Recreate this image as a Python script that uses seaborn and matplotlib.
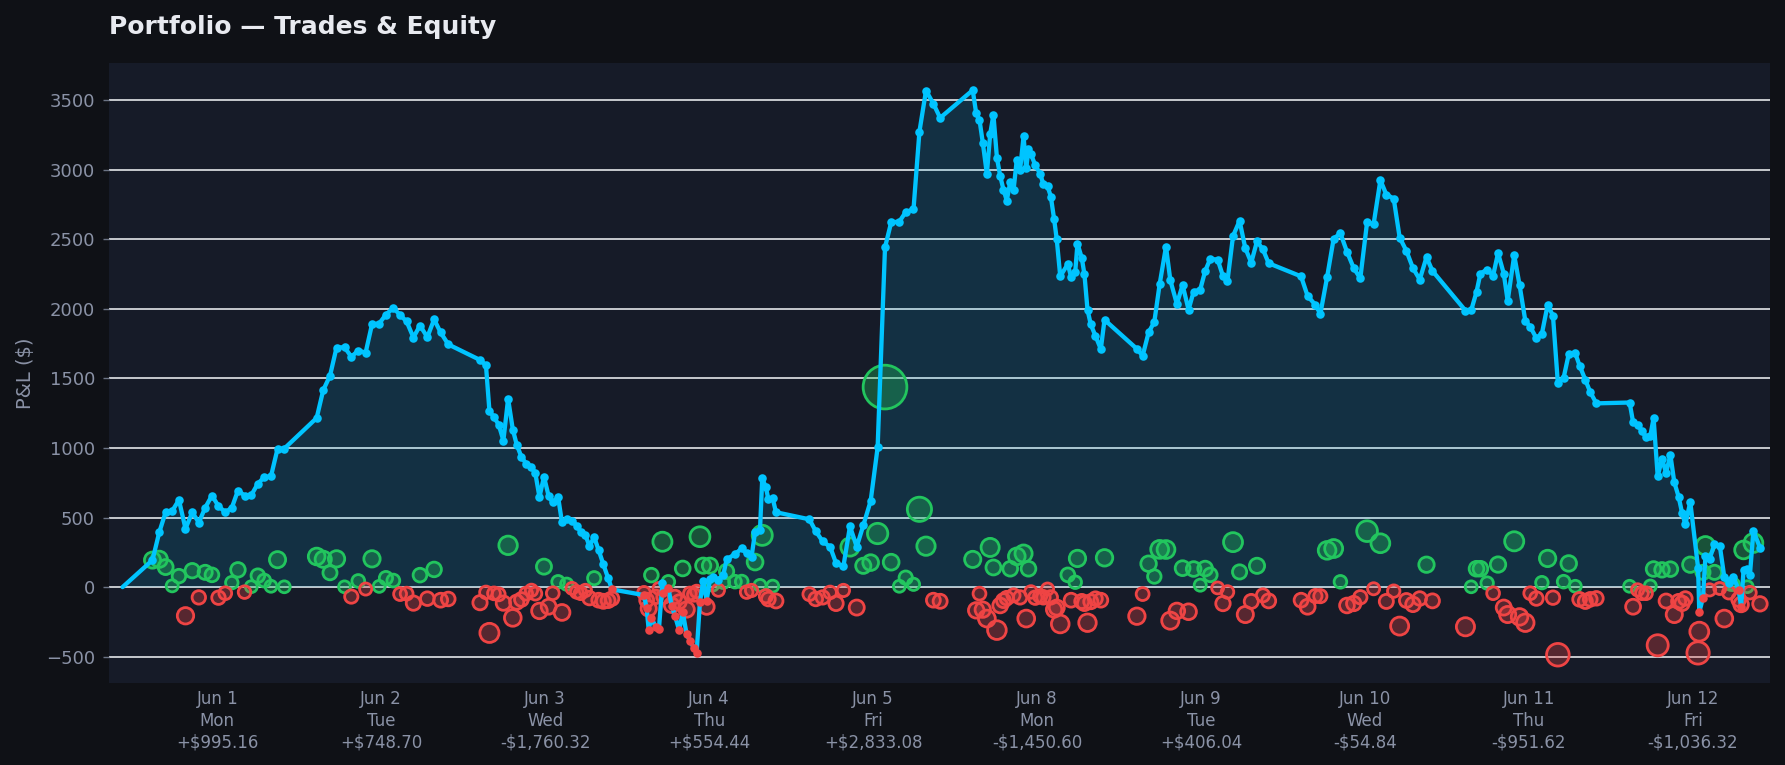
import matplotlib
matplotlib.use("Agg")
import matplotlib.pyplot as plt
import numpy as np
import pandas as pd
import seaborn as sns

# trading days shown on the axis
days = ["Jun 1", "Jun 2", "Jun 3", "Jun 4", "Jun 5", "Jun 8", "Jun 9", "Jun 10", "Jun 11", "Jun 12"]
weekdays = ["Mon", "Tue", "Wed", "Thu", "Fri", "Mon", "Tue", "Wed", "Thu", "Fri"]

# equity curve starts flat before the first trade
session_start = 8.13
start_equity = 0.0

# trade times (hour of day) and realised P&L of each trade, day by day
jun1_hours = [9.59, 9.92, 10.23, 10.55, 10.88, 11.20, 11.53, 11.85, 12.16, 12.49, 12.81,
              13.14, 13.46, 13.76, 14.08, 14.41, 14.73, 15.04, 15.37, 15.69, 16.02]
jun1_pnl = [194, 200, 144, 9, 79, -206, 118, -74, 106, 88, -76,
            -44, 32, 124, -36, 3, 82, 47, 6, 197, 2.16]

jun2_hours = [9.60, 9.92, 10.25, 10.57, 10.96, 11.29, 11.63, 11.99, 12.30, 12.65, 12.98,
              13.34, 13.67, 13.99, 14.32, 14.64, 15.00, 15.33, 15.65, 16.02]
jun2_pnl = [220, 200, 103, 203, 2, -68, 44, -14, 203, 5, 65,
            47, -50, -47, -115, 86, -83, 127, -94, -85.30]

jun3_hours = [9.57, 9.86, 10.03, 10.25, 10.48, 10.71, 10.94, 11.17, 11.36, 11.59, 11.82,
              12.08, 12.27, 12.47, 12.69, 12.92, 13.12, 13.38, 13.57, 13.80, 14.06,
              14.29, 14.48, 14.71, 14.91, 15.14, 15.36, 15.59, 15.82, 16.01]
jun3_pnl = [-112, -38, -329, -45, -52, -115, 300, -221, -108, -89, -47,
            -23, -47, -171, 147, -141, -44, 38, -182, 21, -9,
            -35, -44, -24, -79, 64, -94, -102, -97, -82.32]

jun4_hours = [9.57, 9.70, 9.80, 9.93, 10.15, 10.30, 10.47, 10.52, 10.76, 10.92, 11.08,
              11.29, 11.46, 11.65, 11.81, 12.01, 12.14, 12.30, 12.46, 12.63, 12.79,
              12.92, 13.20, 13.44, 13.60, 14.01, 14.34, 14.58, 14.82, 14.99, 15.23,
              15.34, 15.52, 15.64, 15.85, 16.01]
jun4_pnl = [-41, -94, -154, 86, -70, -10, 326, -70, 38, -130, -70,
            -106, 134, -161, -46, -55, -31, 362, 154, -142, 154,
            15, -22, 35, 113, 39, 40, -36, -24, 180, 12,
            372, -65, -86, 7, -99.56]

jun5_hours = [9.64, 9.95, 10.29, 10.65, 10.94, 11.30, 11.62, 11.95, 12.27, 12.63,
              12.97, 13.33, 13.63, 14.03, 14.34, 14.72, 15.01, 15.33, 15.69, 16.02]
jun5_pnl = [-51, -85, -74, -38, -117, -24, 288, -147, 153, 176,
            385, 1437, 179, 6, 68, 20, 559, 294, -94, -101.92]

jun8_hours = [9.61, 9.78, 9.94, 10.10, 10.30, 10.46, 10.62, 10.79, 10.95, 11.11,
              11.27, 11.44, 11.60, 11.76, 11.92, 12.09, 12.22, 12.33, 12.45, 12.66,
              12.90, 13.06, 13.26, 13.42, 13.58, 13.71, 13.88, 14.25, 14.41, 14.61,
              14.72, 14.93, 15.06, 15.21, 15.37, 15.60, 15.86, 16.04]
jun8_pnl = [199, -167, -47, -162, -226, 285, 141, -309, -132, -97,
            -79, 132, -59, 221, -74, 241, -226, 132, -35, -76,
            -65, -74, -14, -74, -161, -147, -265, 88, -94, 35,
            206, -103, -117, -256, -105, -83, -94, 210.40]

jun9_hours = [9.62, 9.90, 10.19, 10.47, 10.73, 11.04, 11.25, 11.57, 11.85, 12.14,
              12.39, 12.71, 12.95, 13.20, 13.56, 13.82, 14.04, 14.31, 14.63, 14.91,
              15.20, 15.48, 15.77, 16.05]
jun9_pnl = [-209, -50, 168, 76, 271, 270, -241, -171, 136, -177,
            130, 14, 133, 88, -6, -118, -35, 323, 109, -197,
            -103, 153, -59, -98.96]

jun10_hours = [9.63, 9.95, 10.33, 10.57, 10.90, 11.22, 11.55, 11.87, 12.20, 12.52,
               12.85, 13.17, 13.50, 13.79, 14.15, 14.44, 14.77, 15.09, 15.42, 15.75, 16.04]
jun10_pnl = [-94, -141, -64, -65, 264, 277, 38, -132, -118, -73,
             402, -12, 315, -103, -29, -280, -96, -124, -82, 161, -98.84]

jun11_hours = [9.65, 9.93, 10.19, 10.38, 10.71, 11.00, 11.24, 11.52, 11.71, 12.03,
               12.29, 12.57, 12.81, 13.11, 13.38, 13.66, 13.92, 14.16, 14.44, 14.69,
               15.01, 15.22, 15.50, 15.74, 16.04]
jun11_pnl = [-285, 2, 132, 132, 29, -44, 162, -147, -197, 329,
             -214, -256, -44, -82, 32, 206, -76, -486, 39, 170,
             6, -88, -103, -88, -80.62]

jun12_hours = [9.66, 9.83, 10.05, 10.26, 10.46, 10.67, 10.83, 11.03, 11.24, 11.44,
               11.65, 11.84, 12.05, 12.22, 12.38, 12.62, 13.00, 13.06, 13.24, 13.36,
               13.56, 13.80, 14.06, 14.28, 14.50, 14.60, 14.72, 14.98, 15.10, 15.22,
               15.40, 15.53, 15.70, 16.02]
jun12_pnl = [6, -141, -20, -44, -44, 8, 130, -418, 124, -100,
             129, -197, -103, -117, -82, 161, -473, -320, 106, 297,
             -20, 106, -10, -226, -40, 20, 20, -90, -125, 267,
             3, -40, 317, -120.32]

trade_hours = [jun1_hours, jun2_hours, jun3_hours, jun4_hours, jun5_hours,
               jun8_hours, jun9_hours, jun10_hours, jun11_hours, jun12_hours]
trade_pnl = [jun1_pnl, jun2_pnl, jun3_pnl, jun4_pnl, jun5_pnl,
             jun8_pnl, jun9_pnl, jun10_pnl, jun11_pnl, jun12_pnl]

BG = "#0f1116"
PANEL = "#161b28"
CYAN = "#00c4ff"
GREEN = "#22c55e"
RED = "#ef4444"
MUTED = "#8a92a6"

# each session is squeezed into one unit on the x axis, centred on its label
rows = []
for i, (hrs, pnl) in enumerate(zip(trade_hours, trade_pnl)):
    for h, p in zip(hrs, pnl):
        rows.append((i, i + (h - 12.75) / 8, p))
trades = pd.DataFrame(rows, columns=["day", "x", "pnl"])
trades["equity"] = start_equity + trades["pnl"].cumsum()
trades["area"] = (8.5 + 0.016 * trades["pnl"].abs()) ** 2

curve = pd.concat([pd.DataFrame({"x": [(session_start - 12.75) / 8], "equity": [start_equity]}),
                   trades[["x", "equity"]]], ignore_index=True)
day_totals = trades.groupby("day")["pnl"].sum()

sns.set_theme(style="darkgrid", rc={
    "figure.facecolor": BG,
    "axes.facecolor": PANEL,
    "grid.color": "#e4e6ea",
    "grid.linewidth": 1.2,
    "axes.edgecolor": PANEL,
    "ytick.left": True,
    "ytick.major.size": 4.5,
    "ytick.major.width": 1.0,
    "ytick.color": "#6b7385",
    "xtick.bottom": False,
})
plt.rcParams["font.family"] = ["DejaVu Sans"]

fig, ax = plt.subplots(figsize=(17.85, 7.65), dpi=100)
fig.subplots_adjust(left=0.061, right=0.9916, top=0.9176, bottom=0.107)

x = curve["x"].to_numpy()
eq = curve["equity"].to_numpy()
ax.fill_between(x, eq, 0, where=eq >= 0, interpolate=True, color=CYAN, alpha=0.13, lw=0, zorder=1)
ax.fill_between(x, eq, 0, where=eq <= 0, interpolate=True, color=RED, alpha=0.16, lw=0, zorder=1)

wins = trades[trades["pnl"] >= 0]
losses = trades[trades["pnl"] < 0]
sns.scatterplot(data=wins, x="x", y="pnl", size="area", sizes=(0, 2000), size_norm=(0, 2000),
                color=GREEN, facecolor=(0.133, 0.773, 0.369, 0.33), edgecolor=GREEN,
                linewidth=2.0, legend=False, ax=ax, zorder=3)
sns.scatterplot(data=losses, x="x", y="pnl", size="area", sizes=(0, 2000), size_norm=(0, 2000),
                color=RED, facecolor=(0.937, 0.267, 0.267, 0.30), edgecolor=RED,
                linewidth=2.0, legend=False, ax=ax, zorder=3)

sns.lineplot(data=curve, x="x", y="equity", sort=False, estimator=None, color=CYAN,
             lw=3.1, ax=ax, zorder=4)
above = trades[trades["equity"] >= 0]
below = trades[trades["equity"] < 0]
sns.scatterplot(data=above, x="x", y="equity", color=CYAN, s=38, linewidth=0,
                legend=False, ax=ax, zorder=5)
sns.scatterplot(data=below, x="x", y="equity", color=RED, s=38, linewidth=0,
                legend=False, ax=ax, zorder=5)

labels = []
for d, w, tot in zip(days, weekdays, day_totals):
    sign = "+" if tot >= 0 else "-"
    labels.append(f"{d}\n{w}\n{sign}${abs(tot):,.2f}")
ax.set_xticks(range(len(days)))
ax.set_xticklabels(labels, fontsize=12, color=MUTED, linespacing=1.28)
ax.tick_params(axis="x", pad=-1)
ax.tick_params(axis="y", labelsize=13, labelcolor=MUTED, pad=5.5)
ax.grid(axis="x", visible=False)
ax.set_yticks(range(-500, 3501, 500))

ax.set_xlim(-0.661, 9.47)
ax.set_ylim(-690, 3765)
ax.set_xlabel("")
ax.set_ylabel("P&L ($)", fontsize=14, color=MUTED, labelpad=8)
for s in ax.spines.values():
    s.set_visible(False)

ax.set_title("Portfolio — Trades & Equity", loc="left", fontsize=18, fontweight="bold",
             color="#e8eaf0", pad=21)

fig.savefig("out.png", dpi=100, facecolor=BG)
